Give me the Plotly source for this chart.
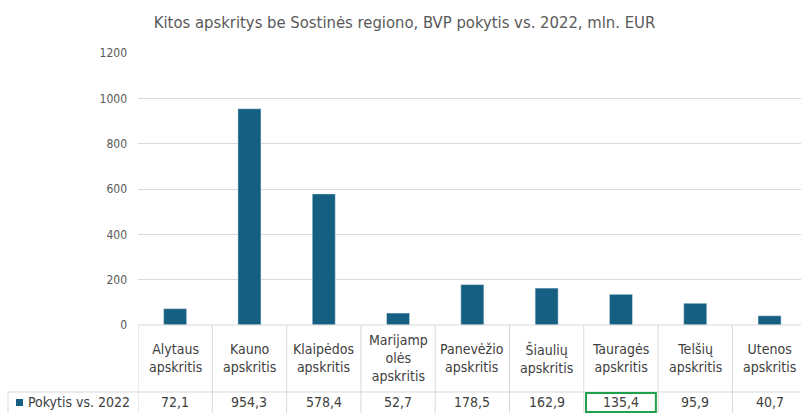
import plotly.graph_objects as go

# %% data
categories = ["Alytaus<br>apskritis", "Kauno<br>apskritis", "Klaipėdos<br>apskritis",
              "Marijamp<br>olės<br>apskritis", "Panevėžio<br>apskritis", "Šiaulių<br>apskritis",
              "Tauragės<br>apskritis", "Telšių<br>apskritis", "Utenos<br>apskritis"]
values = [72.1, 954.3, 578.4, 52.7, 178.5, 162.9, 135.4, 95.9, 40.7]
value_labels = ["72,1", "954,3", "578,4", "52,7", "178,5", "162,9", "135,4", "95,9", "40,7"]
series_name = "Pokytis vs. 2022"
title = "Kitos apskritys be Sostinės regiono, BVP pokytis vs. 2022, mln. EUR"
y_ticks = [0, 200, 400, 600, 800, 1000, 1200]

# %% layout constants
W, H = 801, 413
L, T, B = 138, 53, 88
plot_w, plot_h = W - L, H - T - B
font = "DejaVu Sans Condensed, Liberation Sans Narrow, Roboto, Arial"
bar_color = "#156082"
line_color = "#d9d9d9"
text_color = "#404040"

def py(px):  # pixel row -> paper y
    return (H - B - px) / plot_h

def pxx(px):  # pixel column -> paper x
    return (px - L) / plot_w

x_idx = list(range(len(categories)))

fig = go.Figure(go.Bar(x=x_idx, y=values, marker_color=bar_color, width=0.31,
                       name=series_name, showlegend=False, hoverinfo="skip"))

shapes = []
annotations = []
# vertical table lines on category boundaries
for i in range(len(categories) + 1):
    shapes.append(dict(type="line", xref="x", yref="paper", x0=i - 0.5, x1=i - 0.5,
                       y0=0, y1=py(H + 5), line=dict(color=line_color, width=1)))
# horizontal lines of the table
shapes.append(dict(type="line", xref="paper", yref="paper", x0=0, x1=1, y0=0, y1=0,
                   line=dict(color=line_color, width=1)))
shapes.append(dict(type="line", xref="paper", yref="paper", x0=pxx(8), x1=1,
                   y0=py(392), y1=py(392), line=dict(color=line_color, width=1)))
shapes.append(dict(type="line", xref="paper", yref="paper", x0=pxx(8), x1=pxx(8),
                   y0=py(392), y1=py(H + 5), line=dict(color=line_color, width=1)))
# legend key
shapes.append(dict(type="rect", xref="paper", yref="paper", x0=pxx(16), x1=pxx(23),
                   y0=py(406), y1=py(399), fillcolor=bar_color, line=dict(width=0)))
# selected cell
sel = values.index(135.4)
shapes.append(dict(type="rect", xref="x", yref="paper", x0=sel - 0.47, x1=sel + 0.47,
                   y0=py(412), y1=py(393), line=dict(color="#1fa04a", width=2)))

for i, (c, v) in enumerate(zip(categories, value_labels)):
    annotations.append(dict(x=i, y=py(358), xref="x", yref="paper", text=c, showarrow=False,
                            font=dict(size=14, color=text_color, family=font),
                            xanchor="center", yanchor="middle"))
    annotations.append(dict(x=i, y=py(402), xref="x", yref="paper", text=v, showarrow=False,
                            font=dict(size=14, color=text_color, family=font),
                            xanchor="center", yanchor="middle"))
annotations.append(dict(x=pxx(26), y=py(402), xref="paper", yref="paper", text=series_name,
                        showarrow=False, font=dict(size=14, color=text_color, family=font),
                        xanchor="left", yanchor="middle"))

fig.update_layout(
    width=W, height=H, autosize=False,
    margin=dict(l=L, r=0, t=T, b=B),
    paper_bgcolor="white", plot_bgcolor="white",
    title=dict(text=title, x=0.505, xanchor="center", y=1 - 22 / H, yanchor="middle",
               font=dict(size=16.5, color="#595959", family=font)),
    xaxis=dict(range=[-0.5, -0.5 + plot_w / 74.3], showticklabels=False, showgrid=False,
               zeroline=False, showline=False, fixedrange=True),
    yaxis=dict(range=[0, 1200], tickvals=y_ticks, showgrid=True, gridcolor=line_color,
               zeroline=False, showline=False, ticklabelstandoff=10,
               tickfont=dict(size=12, color="#595959", family=font)),
    shapes=shapes, annotations=annotations,
)

fig.write_html("out.html", config={"displayModeBar": False},
               post_script="document.body.style.margin='0';")
